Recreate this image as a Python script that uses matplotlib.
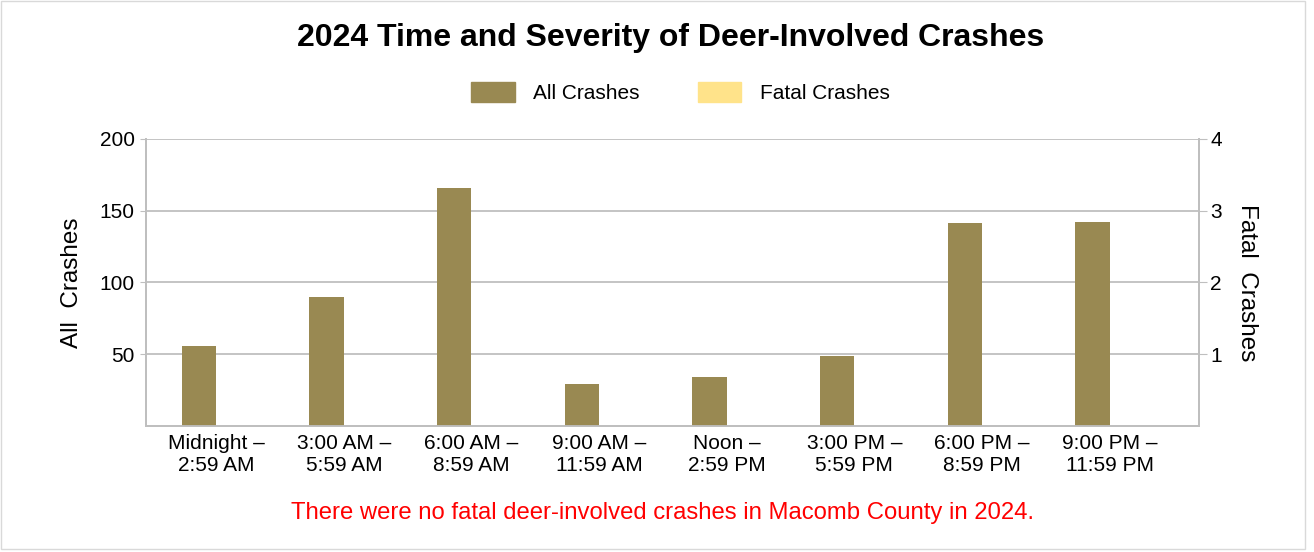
import numpy as np
import matplotlib
matplotlib.use("Agg")
import matplotlib.pyplot as plt
from matplotlib.patches import Rectangle

plt.rcParams['font.family'] = ['Liberation Sans', 'DejaVu Sans']

# data
periods = ["Midnight –\n2:59 AM", "3:00 AM –\n5:59 AM", "6:00 AM –\n8:59 AM",
           "9:00 AM –\n11:59 AM", "Noon –\n2:59 PM", "3:00 PM –\n5:59 PM",
           "6:00 PM –\n8:59 PM", "9:00 PM –\n11:59 PM"]
all_crashes = [56, 90, 166, 29, 34, 49, 141, 142]
fatal_crashes = [0, 0, 0, 0, 0, 0, 0, 0]

left_ticks = [50, 100, 150, 200]
right_ticks = [1, 2, 3, 4]

all_color = "#998952"
fatal_color = "#FFE38A"
grid_color = "#BFBFBF"

fig = plt.figure(figsize=(13.14, 5.52), dpi=100)
ax = fig.add_axes([0.1111, 0.2283, 0.8014, 0.5204])
ax2 = ax.twinx()

x = np.arange(len(periods))
w = 0.27
ax.bar(x - w / 2, all_crashes, width=w, color=all_color, label="All Crashes", zorder=3)
ax2.bar(x + w / 2, fatal_crashes, width=w, color=fatal_color, label="Fatal Crashes", zorder=3)

ax.set_ylim(0, 200)
ax2.set_ylim(0, 4)
ax.set_xlim(-0.55, 7.7)
ax.set_yticks(left_ticks)
ax2.set_yticks(right_ticks)
ax.set_xticks(x)
ax.set_xticklabels(periods, fontsize=15, linespacing=1.2)
ax.tick_params(axis='x', length=0, pad=6)
ax.tick_params(axis='y', labelsize=15, length=4, color=grid_color, pad=4)
ax2.tick_params(axis='y', labelsize=15, length=6, color=grid_color, pad=2)

ax.yaxis.grid(True, color=grid_color, linewidth=1.3, zorder=0)
ax.set_axisbelow(True)
for a in (ax, ax2):
    for s in a.spines.values():
        s.set_color(grid_color)
        s.set_linewidth(1.3)
    a.spines['top'].set_visible(False)

ax.set_ylabel("All  Crashes", fontsize=17.5, labelpad=12)
ax2.set_ylabel("Fatal  Crashes", fontsize=17.5, rotation=-90, labelpad=26)

fig.text(0.51, 0.932, "2024 Time and Severity of Deer-Involved Crashes",
         ha='center', va='center', fontsize=23, fontweight='bold')

handles = [Rectangle((0, 0), 1, 1, color=all_color), Rectangle((0, 0), 1, 1, color=fatal_color)]
fig.legend(handles, ["All Crashes", "Fatal Crashes"], loc='center',
           bbox_to_anchor=(0.518, 0.832), ncol=2, frameon=False, fontsize=15,
           handlelength=2.07, handleheight=1.06, handletextpad=0.9, columnspacing=2.8)

fig.text(0.504, 0.07, "There were no fatal deer-involved crashes in Macomb County in 2024.",
         ha='center', va='center', fontsize=17.2, color='#FF0000')

# light outer frame
fig.patches.append(Rectangle((0.001, 0.006), 0.992, 0.993, transform=fig.transFigure,
                             fill=False, edgecolor='#D9D9D9', linewidth=1))

fig.savefig("out.png", dpi=100)
